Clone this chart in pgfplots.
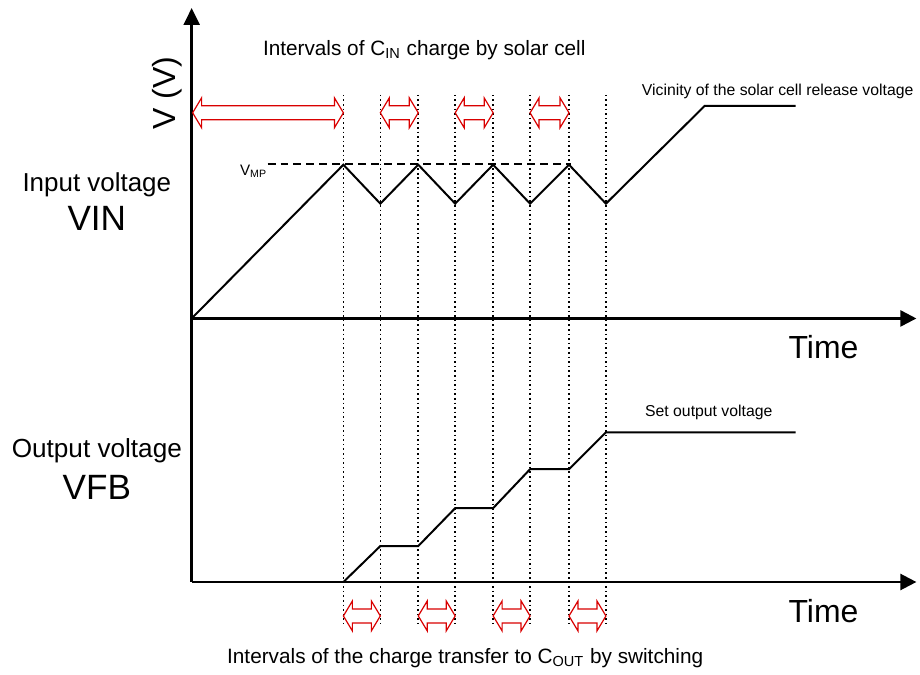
\documentclass[border=0pt]{standalone}
\usepackage{fontspec}
\setmainfont{Liberation Sans}
\usepackage{pgfplots}
\pgfplotsset{compat=1.18}
\usetikzlibrary{arrows.meta}
\newcommand{\fs}[1]{\fontsize{#1bp}{#1bp}\selectfont}
\begin{document}
\begin{tikzpicture}
\begin{axis}[
  scale only axis, width=460bp, height=335.5bp,
  xmin=0, xmax=920, ymin=0, ymax=671, y dir=reverse,
  axis lines=none, clip=false,
  every axis plot/.append style={line join=miter},
]
% page frame (invisible, fixes the bounding box)
\addplot[draw=none] coordinates {(0,0) (920,671)};
% axes
\addplot[line width=1.2bp, -{Triangle[length=8.5bp,width=8bp]}] coordinates {(192,583) (192,8)};
\addplot[line width=1.2bp, -{Triangle[length=8bp,width=8bp]}] coordinates {(192,319) (918,319)};
\addplot[line width=1.2bp, -{Triangle[length=8bp,width=8bp]}] coordinates {(192,583) (918,583)};
% dotted guides
\pgfplotsinvokeforeach{344,381,419,456,494,531,570,607}{
  \addplot[line width=0.8bp, dash pattern=on 0.8bp off 1.5bp] coordinates {(#1,95) (#1,625)};
}
% VMP level
\addplot[line width=1bp, dash pattern=on 4bp off 2.5bp] coordinates {(268,164) (572,164)};
% input voltage VIN
\addplot[line width=1bp] coordinates {
  (192,319) (344,165) (381,204) (419,165) (456,204) (494,165)
  (531,204) (570,165) (607,204) (706,106) (797,106)};
% output voltage VFB
\addplot[line width=1bp] coordinates {
  (344,583) (381,547) (419,547) (456,509) (494,509)
  (531,470) (570,470) (607,433) (797,433)};
% charge intervals (hollow double arrows)
\pgfplotsset{dbl/.style={draw=red!85!black, line width=0.6bp, fill=white}}
\addplot[dbl] coordinates {(193,113) (202,98) (202,106) (335,106) (335,98) (344,113) (335,128) (335,120) (202,120) (202,128)} --cycle;
\addplot[dbl] coordinates {(381,113) (390,98) (390,106) (410,106) (410,98) (419,113) (410,128) (410,120) (390,120) (390,128)} --cycle;
\addplot[dbl] coordinates {(456,113) (465,98) (465,106) (485,106) (485,98) (494,113) (485,128) (485,120) (465,120) (465,128)} --cycle;
\addplot[dbl] coordinates {(531,113) (540,98) (540,106) (561,106) (561,98) (570,113) (561,128) (561,120) (540,120) (540,128)} --cycle;
\addplot[dbl] coordinates {(344,617) (353,602) (353,610) (372,610) (372,602) (381,617) (372,632) (372,624) (353,624) (353,632)} --cycle;
\addplot[dbl] coordinates {(419,617) (428,602) (428,610) (447,610) (447,602) (456,617) (447,632) (447,624) (428,624) (428,632)} --cycle;
\addplot[dbl] coordinates {(494,617) (503,602) (503,610) (522,610) (522,602) (531,617) (522,632) (522,624) (503,624) (503,632)} --cycle;
\addplot[dbl] coordinates {(570,617) (579,602) (579,610) (598,610) (598,602) (607,617) (598,632) (598,624) (579,624) (579,632)} --cycle;
% labels
\node[font=\fs{10.4}] at (axis cs:425,50) {Intervals of C\textsubscript{IN} charge by solar cell};
\node[font=\fs{16}, rotate=90] at (axis cs:168,93) {V (V)};
\node[font=\fs{13}] at (axis cs:97,185) {Input voltage};
\node[font=\fs{17.6}] at (axis cs:97,219) {VIN};
\node[font=\fs{13.1}] at (axis cs:97,452) {Output voltage};
\node[font=\fs{17.6}] at (axis cs:97,488) {VFB};
\node[font=\fs{16}] at (axis cs:825,348) {Time};
\node[font=\fs{16}] at (axis cs:825,612) {Time};
\node[font=\fs{7.6}, anchor=east, inner sep=0pt] at (axis cs:268,172) {V\textsubscript{MP}};
\node[font=\fs{7.9}] at (axis cs:779,92) {Vicinity of the solar cell release voltage};
\node[font=\fs{7.9}] at (axis cs:710,413) {Set output voltage};
\node[font=\fs{10.4}] at (axis cs:466,659) {Intervals of the charge transfer to C\textsubscript{OUT} by switching};
\end{axis}
\end{tikzpicture}
\end{document}
